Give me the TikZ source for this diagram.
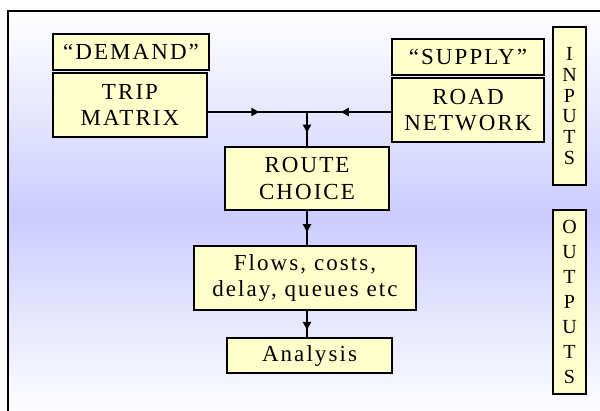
\documentclass[tikz,border=0pt]{standalone}
\usepackage{fontspec}
\setmainfont{Liberation Serif}[LetterSpace=9]
\usetikzlibrary{arrows.meta,decorations.markings}
\definecolor{boxfill}{HTML}{FFFFCC}
\definecolor{lavender}{HTML}{CCCCFF}
\tikzset{
  boxnode/.style={draw=black, line width=1.2pt, fill=boxfill, inner sep=0pt,
    align=center, font=\fontsize{23}{26.6}\selectfont},
  sidebox/.style={draw=black, line width=1.2pt, fill=boxfill, inner sep=0pt,
    align=center, minimum width=33pt},
  flow/.style={line width=2.2pt},
  midarrow/.style={postaction={decorate}, decoration={markings,
    mark=at position #1 with {\arrow{Triangle[length=8pt,width=8pt]}}}}
}
\begin{document}
\begin{tikzpicture}[x=1pt,y=-1pt]
\useasboundingbox (0,0) rectangle (600,410);
\clip (0,0) rectangle (600,410);
% framed backdrop with vertical gradient
\shade[top color=white, bottom color=white, middle color=lavender] (8,11) rectangle (620,420);
\draw[line width=2pt] (8,420) -- (8,11) -- (620,11);

% input boxes
\node[boxnode, minimum width=156pt, minimum height=36pt] (demand) at (131,52) {“DEMAND”};
\node[boxnode, minimum width=154pt, minimum height=64pt] (trip) at (130,105) {TRIP\\MATRIX};
\node[boxnode, minimum width=152pt, minimum height=36pt] (supply) at (468,57) {“SUPPLY”};
\node[boxnode, minimum width=152pt, minimum height=64pt] (road) at (468,110) {ROAD\\NETWORK};

% process boxes
\node[boxnode, minimum width=164pt, minimum height=63pt] (route) at (307,178.5) {ROUTE\\CHOICE};
\node[boxnode, minimum width=222pt, minimum height=64pt] (flows) at (305,278) {Flows, costs,\\delay, queues etc};
\node[boxnode, minimum width=165pt, minimum height=35pt] (analysis) at (309.5,355.5) {Analysis};

% side labels
\node[sidebox, minimum height=158pt, font=\fontsize{20}{20.8}\selectfont] (inputs) at (569.5,106) {I\\N\\P\\U\\T\\S};
\node[sidebox, minimum height=184pt, font=\fontsize{20}{25}\selectfont] (outputs) at (569.5,302) {O\\U\\T\\P\\U\\T\\S};

% connectors
\coordinate (j) at (307,112);
\draw[flow, midarrow=0.52] (trip.east |- j) -- (j);
\draw[flow, midarrow=0.6] (road.west |- j) -- (j);
\draw[flow, midarrow=0.6] (j) -- (j |- route.north);
\draw[flow, midarrow=0.62] (j |- route.south) -- (j |- flows.north);
\draw[flow, midarrow=0.72] (j |- flows.south) -- (j |- analysis.north);
\end{tikzpicture}
\end{document}
